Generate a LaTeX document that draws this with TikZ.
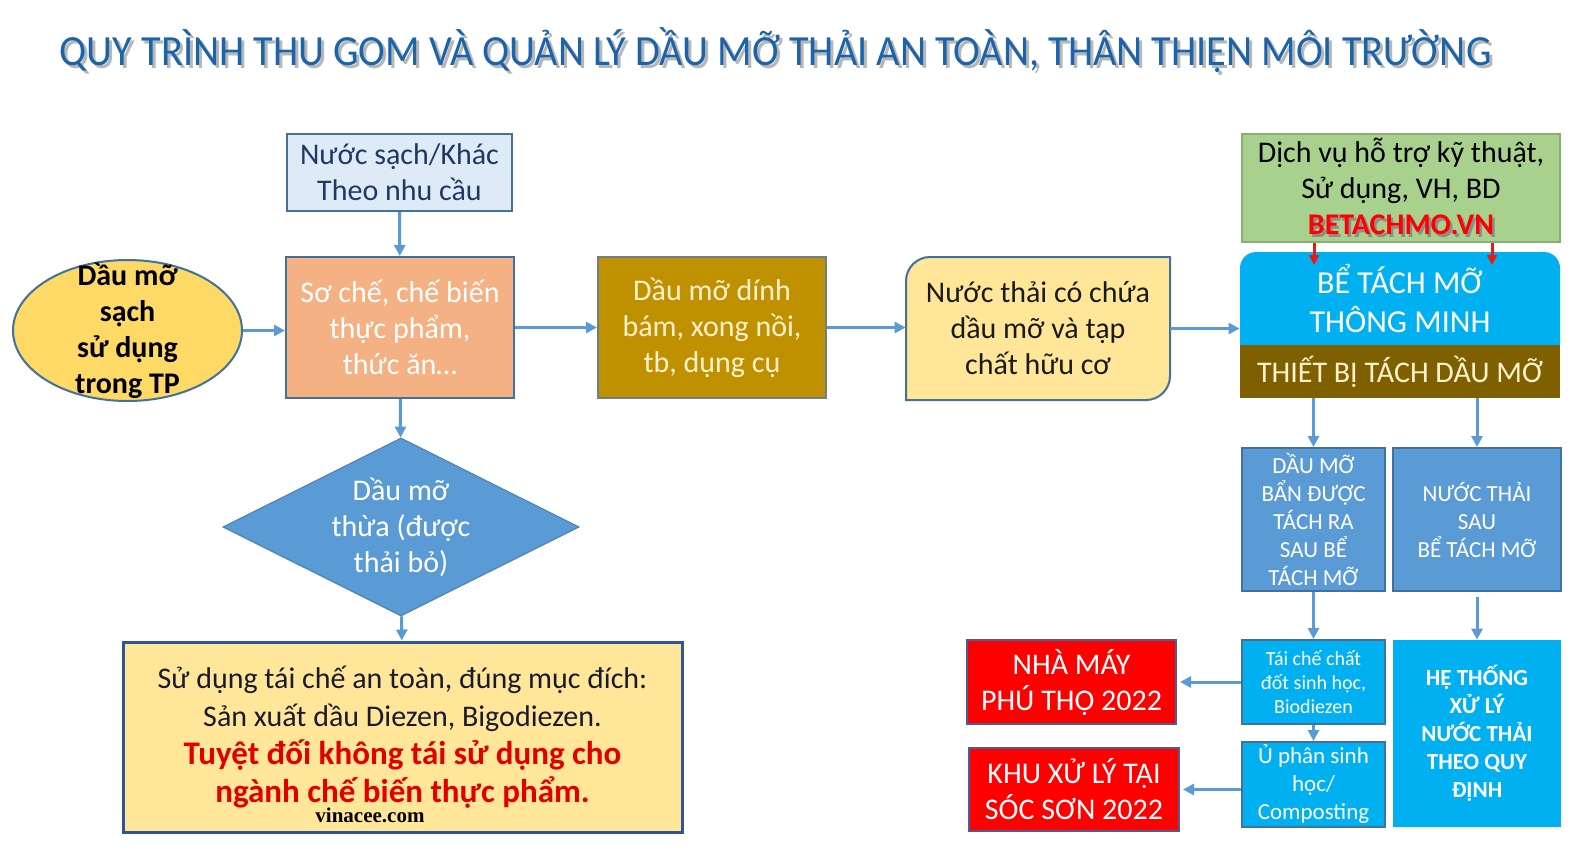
\documentclass[tikz,border=0pt]{standalone}
\usepackage{fontspec}
\setmainfont{Carlito}
\newfontfamily\timesf{Liberation Serif}
\usetikzlibrary{arrows.meta,shapes.geometric}
\definecolor{titleblue}{HTML}{1C64AA}
\definecolor{navy}{HTML}{1F3864}
\definecolor{bordb}{HTML}{41719C}
\definecolor{arrb}{HTML}{5B9BD5}
\definecolor{nsfill}{HTML}{DEEBF7}
\definecolor{elfill}{HTML}{FFD966}
\definecolor{scfill}{HTML}{F4B183}
\definecolor{ddfill}{HTML}{BF9000}
\definecolor{cream}{HTML}{FFF2CC}
\definecolor{ntfill}{HTML}{FFE699}
\definecolor{dvfill}{HTML}{A9D18E}
\definecolor{dvdraw}{HTML}{8BAE74}
\definecolor{cyanf}{HTML}{00B0F0}
\definecolor{tbfill}{HTML}{7F6000}
\definecolor{midblue}{HTML}{5B9BD5}
\definecolor{redf}{HTML}{FF0000}
\definecolor{reddraw}{HTML}{4F5B93}
\definecolor{bbdraw}{HTML}{2F5597}
\definecolor{bbtext}{HTML}{1A1A2E}
\definecolor{bbred}{HTML}{E00000}
\definecolor{redarrow}{HTML}{E41B17}
\definecolor{darktext}{HTML}{1A1A1A}
\begin{document}
\begin{tikzpicture}[x=0.5pt,y=-0.5pt,
  box/.style={draw=bordb, line width=1pt, align=center, inner sep=0pt},
  arr/.style={draw=arrb, line width=1.5pt, -{Triangle[length=5.5pt,width=5.5pt]}},
  redarr/.style={draw=redarrow, line width=1.5pt, -{Triangle[length=5pt,width=5pt]}},
  f15/.style={font=\fontsize{15pt}{18pt}\selectfont},
  f16/.style={font=\fontsize{16pt}{19.5pt}\selectfont},
  fsm/.style={font=\fontsize{11.5pt}{14pt}\selectfont},
  fsmb/.style={font=\bfseries\fontsize{11.5pt}{14pt}\selectfont},
  ftiny/.style={font=\fontsize{10pt}{12pt}\selectfont}]
\fill[white] (0,0) rectangle (1579,863);
\useasboundingbox (0,0) rectangle (1579,863);

% title
\node[anchor=base, text=black!40, opacity=0.7, font=\fontsize{21.5pt}{24pt}\selectfont] at (778.5,68)
  {\scalebox{0.938}[1]{QUY TRÌNH THU GOM VÀ QUẢN LÝ DẦU MỠ THẢI AN TOÀN, THÂN THIỆN MÔI TRƯỜNG}};
\node[anchor=base, text=titleblue, font=\fontsize{21.5pt}{24pt}\selectfont] (title) at (775.5,65)
  {\scalebox{0.938}[1]{QUY TRÌNH THU GOM VÀ QUẢN LÝ DẦU MỠ THẢI AN TOÀN, THÂN THIỆN MÔI TRƯỜNG}};

% left column
\node[box, fill=nsfill, minimum width=112.5pt, minimum height=38.5pt, text=navy, f15] (ns) at (399.5,172.5)
  {Nước sạch/Khác\\Theo nhu cầu};
\node[ellipse, draw=bordb, line width=1pt, fill=elfill, minimum width=114.5pt, minimum height=70.5pt, inner sep=0pt] (el) at (127.5,330.5) {};
\node[align=center, inner sep=0pt, font=\bfseries\fontsize{15pt}{18pt}\selectfont] (elt) at (127.5,331) {Dầu mỡ\\sạch\\sử dụng\\trong TP};
\node[box, fill=scfill, minimum width=114pt, minimum height=70.5pt, text=white, f15] (sc) at (400,327.5)
  {Sơ chế, chế biến\\thực phẩm,\\thức ăn…};
\node[box, draw=gray!80!bordb, fill=ddfill, minimum width=114pt, minimum height=70.5pt, text=cream, f15] (dd) at (712,327.5)
  {Dầu mỡ dính\\bám, xong nồi,\\tb, dụng cụ};

% rounded diagonal box
\coordinate (ntTL) at (906,257);
\coordinate (ntTR) at (1170,257);
\coordinate (ntBR) at (1170,400);
\coordinate (ntBL) at (906,400);
\filldraw[draw=bordb, line width=1pt, fill=ntfill]
  ([yshift=-12pt]ntTL) .. controls ([yshift=-5.4pt]ntTL) and ([xshift=5.4pt]ntTL) .. ([xshift=12pt]ntTL)
  -- (ntTR) -- ([yshift=12pt]ntBR) .. controls ([yshift=5.4pt]ntBR) and ([xshift=-5.4pt]ntBR) .. ([xshift=-12pt]ntBR)
  -- (ntBL) -- cycle;
\node[align=center, inner sep=0pt, minimum width=132pt, minimum height=71.5pt, text=darktext, f15] (nt) at (1038,328.5)
  {Nước thải có chứa\\dầu mỡ và tạp\\chất hữu cơ};

% right top
\node[box, draw=dvdraw, fill=dvfill, minimum width=159pt, minimum height=54pt, text=black, f15] (dv) at (1401,188)
  {Dịch vụ hỗ trợ kỹ thuật,\\Sử dụng, VH, BD\\{\bfseries\makebox[0pt][l]{\kern1.2pt\raisebox{-1.2pt}{\color{black!45}BETACHMO.VN}}\color{redf}BETACHMO.VN}};
\coordinate (btTL) at (1240,252);
\coordinate (btTR) at (1560,252);
\coordinate (btBR) at (1560,346);
\coordinate (btBL) at (1240,346);
\fill[cyanf] (btBL) -- ([yshift=-8pt]btTL) .. controls ([yshift=-3.6pt]btTL) and ([xshift=3.6pt]btTL) .. ([xshift=8pt]btTL)
  -- ([xshift=-8pt]btTR) .. controls ([xshift=-3.6pt]btTR) and ([yshift=-3.6pt]btTR) .. ([yshift=-8pt]btTR)
  -- (btBR) -- cycle;
\node[align=center, inner sep=0pt, minimum width=160pt, minimum height=46.5pt, text=white, f16] (bt) at (1400,298)
  {BỂ TÁCH MỠ\\THÔNG MINH};
\node[fill=tbfill, inner sep=0pt, minimum width=160pt, minimum height=26.5pt, text=cream, f15] (tb) at (1400,371.5)
  {THIẾT BỊ TÁCH DẦU MỠ};
\coordinate (r1) at (1314,265);
\coordinate (r2) at (1492,265);
\draw[redarr] (dv.south -| r1) -- (r1);
\draw[redarr] (dv.south -| r2) -- (r2);

% right middle
\node[box, fill=midblue, minimum width=71.5pt, minimum height=71.5pt, text=white, fsm] (dmb) at (1313.5,519.5)
  {DẦU MỠ\\BẨN ĐƯỢC\\TÁCH RA\\SAU BỂ\\TÁCH MỠ};
\node[box, fill=midblue, minimum width=84pt, minimum height=71.5pt, text=white, fsm] (nts) at (1477,519.5)
  {NƯỚC THẢI\\SAU\\BỂ TÁCH MỠ};

% right bottom
\node[box, fill=cyanf, minimum width=71.5pt, minimum height=42pt, text=white, ftiny] (tc) at (1313.5,682)
  {Tái chế chất\\đốt sinh học,\\Biodiezen};
\node[box, fill=cyanf, minimum width=71.5pt, minimum height=42.5pt, text=white, fsm] (up) at (1313.5,784.5)
  {Ủ phân sinh\\học/\\Composting};
\node[fill=cyanf, align=center, inner sep=0pt, minimum width=84pt, minimum height=93.5pt, text=white, fsmb] (ht) at (1477,733.5)
  {HỆ THỐNG\\XỬ LÝ\\NƯỚC THẢI\\THEO QUY\\ĐỊNH};
\node[box, draw=reddraw, fill=redf, minimum width=104.5pt, minimum height=42pt, text=white, f15] (nm) at (1071.5,682)
  {NHÀ MÁY\\PHÚ THỌ 2022};
\node[box, draw=reddraw, fill=redf, minimum width=105pt, minimum height=41.5pt, text=white, f15] (kx) at (1074,789.5)
  {KHU XỬ LÝ TẠI\\SÓC SƠN 2022};

% diamond and bottom box
\node[diamond, aspect=2, draw=midblue!85!black, line width=0.6pt, fill=midblue, inner sep=0pt,
  minimum width=178pt, minimum height=89pt, align=center, text=white, f15] (dia) at (401,527)
  {Dầu mỡ\\thừa (được\\thải bỏ)};
\node[box, draw=bbdraw, line width=1.5pt, fill=ntfill, minimum width=279.5pt, minimum height=95pt,
  font=\fontsize{15pt}{19pt}\selectfont] (bb) at (402.5,737)
  {{\color{bbtext}Sử dụng tái chế an toàn, đúng mục đích:}\\
   {\color{bbtext}Sản xuất dầu Diezen, Bigodiezen.}\\
   {\bfseries\fontsize{16.5pt}{19.5pt}\selectfont\color{bbred}Tuyệt đối không tái sử dụng cho}\\
   {\bfseries\fontsize{16.5pt}{19.5pt}\selectfont\color{bbred}ngành chế biến thực phẩm.}};
\node[font=\timesf\bfseries\fontsize{10.5pt}{12pt}\selectfont, text=black, inner sep=0pt] (vin) at (370,815) {vinacee.com};

% connectors
\draw[arr] (ns) -- (sc);
\draw[arr] (el.east) -- (el.east -| sc.west);
\draw[arr] (sc) -- (dd);
\draw[arr] (dd.east) -- (dd.east -| nt.west);
\draw[arr] (nt.east) -- (nt.east -| bt.west);
\draw[arr] (sc) -- (dia);
\draw[arr] (dia) -- (bb);
\draw[arr] (tb.south -| dmb.north) -- (dmb.north);
\draw[arr] (tb.south -| nts.north) -- (nts.north);
\draw[arr] (dmb) -- (tc);
\draw[arr, shorten <=2.5pt] (nts) -- (ht);
\draw[arr] (tc) -- (up);
\draw[arr, shorten >=1.5pt] (tc) -- (nm);
\draw[arr, shorten >=1.5pt] (kx.east -| up.west) -- (kx.east);
\end{tikzpicture}
\end{document}
